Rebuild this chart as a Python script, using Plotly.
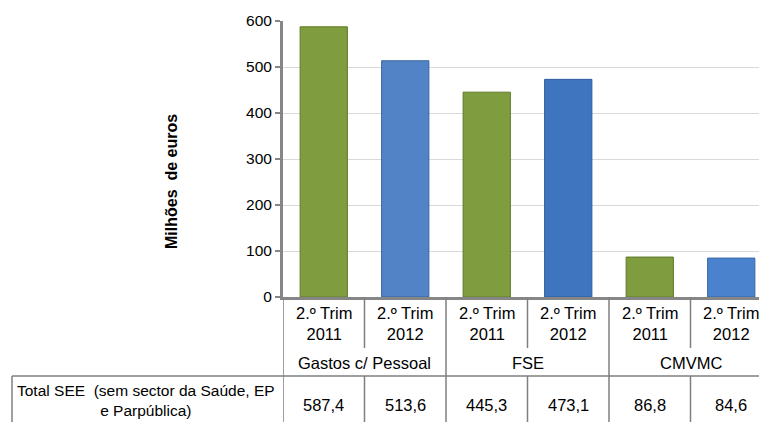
import plotly.graph_objects as go

periods = ["2.º Trim<br>2011", "2.º Trim<br>2012"] * 3
groups = ["Gastos c/ Pessoal", "FSE", "CMVMC"]
values = [587.4, 513.6, 445.3, 473.1, 86.8, 84.6]
value_labels = ["587,4", "513,6", "445,3", "473,1", "86,8", "84,6"]
row_label = "Total SEE  (sem sector da Saúde, EP<br>e Parpública)"
y_title = "Milhões  de euros"
y_ticks = [0, 100, 200, 300, 400, 500, 600]

bar_colors = ["#7F9D3E", "#5183C6", "#7F9D3E", "#3F74BE", "#7F9D3E", "#4A82CE"]
line_colors = ["#5E7A2A", "#3A659F", "#5E7A2A", "#2F5C9C", "#5E7A2A", "#3868A8"]

W, H = 759, 422
L, T, B = 283, 21, 125
plot_w = W - L
plot_h = H - T - B

def py(pix):
    return (H - B - pix) / plot_h

def px(pix):
    return (pix - L) / plot_w

xs = list(range(len(values)))
FONT = "Liberation Sans"
GRAY = "#7F7F7F"

fig = go.Figure()
fig.add_trace(go.Bar(
    x=xs, y=values, width=0.58,
    marker=dict(color=bar_colors, line=dict(color=line_colors, width=1)),
    hoverinfo="skip",
))

shapes = []
annotations = []

# table vertical lines
for i in range(len(values) + 1):
    xb = i - 0.5
    if i % 2 == 0:
        y1 = py(H)
    else:
        y1 = py(348)
    shapes.append(dict(type="line", xref="x", yref="paper", x0=xb, x1=xb,
                       y0=0, y1=y1, line=dict(color=GRAY, width=1.5)))
    if i % 2 == 1:
        shapes.append(dict(type="line", xref="x", yref="paper", x0=xb, x1=xb,
                           y0=py(376), y1=py(H), line=dict(color=GRAY, width=1.5)))
# data row top line
shapes.append(dict(type="line", xref="paper", yref="paper", x0=px(12), x1=1.05,
                   y0=py(376), y1=py(376), line=dict(color=GRAY, width=1.5)))
# left cell border
shapes.append(dict(type="line", xref="paper", yref="paper", x0=px(12), x1=px(12),
                   y0=py(376), y1=py(H), line=dict(color=GRAY, width=1.5)))

TS = 16.5
for i, (p, v) in enumerate(zip(periods, value_labels)):
    annotations.append(dict(x=i, y=py(323), xref="x", yref="paper", text=p,
                            showarrow=False, font=dict(size=TS, color="#000000", family=FONT),
                            xanchor="center", yanchor="middle"))
    annotations.append(dict(x=i, y=py(405), xref="x", yref="paper", text=v,
                            showarrow=False, font=dict(size=TS, color="#000000", family=FONT),
                            xanchor="center", yanchor="middle"))
for g, name in enumerate(groups):
    annotations.append(dict(x=2 * g + 0.5, y=py(363), xref="x", yref="paper", text=name,
                            showarrow=False, font=dict(size=TS, color="#000000", family=FONT),
                            xanchor="center", yanchor="middle"))
annotations.append(dict(x=px(146), y=py(400), xref="paper", yref="paper", text=row_label,
                        showarrow=False, font=dict(size=15.5, color="#000000", family=FONT),
                        xanchor="center", yanchor="middle", align="center"))
annotations.append(dict(x=px(172), y=py(182), xref="paper", yref="paper",
                        text="<b>" + y_title + "</b>", textangle=-90,
                        showarrow=False, font=dict(size=16, color="#000000", family=FONT),
                        xanchor="center", yanchor="middle"))

fig.update_layout(
    width=W, height=H,
    margin=dict(l=L, r=0, t=T, b=B, pad=0),
    paper_bgcolor="white", plot_bgcolor="white",
    showlegend=False,
    bargap=0.42,
    shapes=shapes, annotations=annotations,
    font=dict(family=FONT, color="#000000"),
)
fig.update_xaxes(range=[-0.5, -0.5 + plot_w / 81.5], showticklabels=False, ticks="",
                 showgrid=False, zeroline=False, showline=True, linecolor="#868686",
                 linewidth=3, fixedrange=True)
fig.update_yaxes(range=[0, 600], tickvals=y_ticks, ticks="outside", ticklen=5,
                 tickcolor="#868686", tickwidth=2, showgrid=True, gridcolor="#D9D9D9",
                 gridwidth=1, zeroline=False, showline=True, linecolor="#868686",
                 linewidth=3, tickfont=dict(size=15.5, family=FONT, color="#000000"),
                 ticklabelstandoff=0, fixedrange=True)

fig.write_html("out.html")
